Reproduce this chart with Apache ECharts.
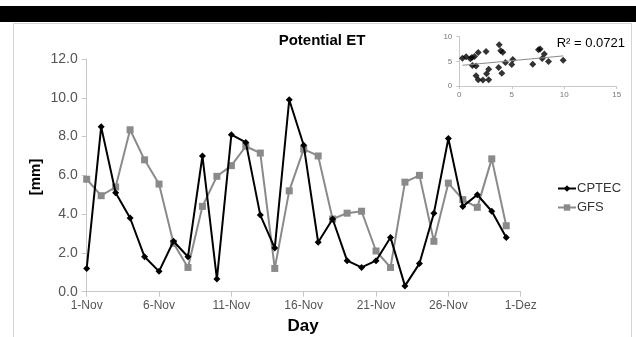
<!DOCTYPE html>
<html>
<head>
<meta charset="utf-8">
<script src="https://cdn.jsdelivr.net/npm/echarts@6/dist/echarts.min.js"></script>
<style>html,body{margin:0;padding:0;background:#fff;}#c{width:636px;height:337px;}</style>
</head>
<body>
<div id="c"></div>
<script>
const days = ['1-Nov','2-Nov','3-Nov','4-Nov','5-Nov','6-Nov','7-Nov','8-Nov','9-Nov','10-Nov',
  '11-Nov','12-Nov','13-Nov','14-Nov','15-Nov','16-Nov','17-Nov','18-Nov','19-Nov','20-Nov',
  '21-Nov','22-Nov','23-Nov','24-Nov','25-Nov','26-Nov','27-Nov','28-Nov','29-Nov','30-Nov','1-Dez'];
const cptec = [1.2, 8.5, 5.1, 3.8, 1.8, 1.05, 2.6, 1.8, 7.0, 0.65, 8.1, 7.7, 3.95, 2.25, 9.9, 7.55, 2.55, 3.75, 1.6, 1.25, 1.6, 2.8, 0.3, 1.45, 4.05, 7.9, 4.4, 5.0, 4.15, 2.8];
const gfs = [5.8, 4.95, 5.4, 8.35, 6.8, 5.55, 2.5, 1.25, 4.4, 5.95, 6.5, 7.5, 7.15, 1.2, 5.2, 7.35, 7.0, 3.75, 4.05, 4.15, 2.1, 1.25, 5.65, 6.0, 2.6, 5.6, 4.75, 4.35, 6.85, 3.4];
const seriesNames = ['CPTEC', 'GFS'];
const titleText = 'Potential ET';
const r2Text = 'R² = 0.0721';

const FONT = 'Liberation Sans, Arial, sans-serif';
// scatter pairs (CPTEC vs GFS) and linear trendline
const pairs = cptec.map((v, i) => [v, gfs[i]]);
const n = pairs.length;
const mx = cptec.reduce((a, b) => a + b, 0) / n;
const my = gfs.reduce((a, b) => a + b, 0) / n;
let sxy = 0, sxx = 0;
pairs.forEach(p => { sxy += (p[0] - mx) * (p[1] - my); sxx += (p[0] - mx) * (p[0] - mx); });
const slope = sxy / sxx, icpt = my - slope * mx;
const xmin = Math.min(...cptec), xmax = Math.max(...cptec);
const trend = [[xmin, icpt + slope * xmin], [xmax, icpt + slope * xmax]];

const chart = echarts.init(document.getElementById('c'), null, {renderer: 'canvas'});
chart.setOption({
  animation: false,
  backgroundColor: '#fff',
  textStyle: {fontFamily: FONT},
  graphic: [
    {type: 'rect', shape: {x: 0, y: 6, width: 636, height: 16}, style: {fill: '#000'}, z: -1},
    {type: 'rect', shape: {x: 13.5, y: 23.5, width: 618, height: 330}, style: {fill: null, stroke: '#d4d4d4', lineWidth: 1}, z: -1},
    {type: 'text', x: 322, y: 41, style: {text: titleText, font: 'bold 15px ' + FONT, fill: '#000', textAlign: 'center', textVerticalAlign: 'middle'}},
    {type: 'text', x: 303, y: 326, style: {text: 'Day', font: 'bold 17px ' + FONT, fill: '#000', textAlign: 'center', textVerticalAlign: 'middle'}},
    {type: 'text', x: 36, y: 177, rotation: Math.PI / 2, style: {text: '[mm]', font: 'bold 15px ' + FONT, fill: '#000', textAlign: 'center', textVerticalAlign: 'middle'}},
    {type: 'text', x: 625, y: 43, style: {text: r2Text, font: '13px ' + FONT, fill: '#000', textAlign: 'right', textVerticalAlign: 'middle'}}
  ],
  legend: {
    orient: 'vertical', left: 552, top: 177, itemWidth: 18, itemHeight: 8, itemGap: 6,
    textStyle: {fontFamily: FONT, fontSize: 13, color: '#333', padding: [0, 0, 0, -4]},
    data: seriesNames
  },
  grid: [
    {left: 86.7, right: 115.3, top: 59, bottom: 45.3},
    {left: 459.3, right: 19.3, top: 36.7, bottom: 251}
  ],
  xAxis: [
    {type: 'category', gridIndex: 0, data: days, boundaryGap: false,
     axisLine: {lineStyle: {color: '#c8c8c8', width: 1}},
     axisTick: {interval: 4, length: 5, lineStyle: {color: '#c8c8c8'}},
     axisLabel: {interval: 4, margin: 8, fontSize: 12, color: '#555', fontFamily: FONT},
     splitLine: {show: false}},
    {type: 'value', gridIndex: 1, min: 0, max: 15, interval: 5,
     axisLine: {lineStyle: {color: '#c8c8c8'}},
     axisTick: {length: 3, lineStyle: {color: '#c8c8c8'}},
     axisLabel: {margin: 5, fontSize: 8, color: '#777', fontFamily: FONT},
     splitLine: {show: false}}
  ],
  yAxis: [
    {type: 'value', gridIndex: 0, min: 0, max: 12, interval: 2,
     axisLine: {show: true, lineStyle: {color: '#c8c8c8', width: 1}},
     axisTick: {show: true, length: 5, lineStyle: {color: '#c8c8c8'}},
     axisLabel: {margin: 9, fontSize: 14, color: '#555', fontFamily: FONT, formatter: v => v.toFixed(1)},
     splitLine: {show: false}},
    {type: 'value', gridIndex: 1, min: 0, max: 10, interval: 5,
     axisLine: {show: true, lineStyle: {color: '#c8c8c8'}},
     axisTick: {show: true, length: 3, lineStyle: {color: '#c8c8c8'}},
     axisLabel: {margin: 7, fontSize: 8, color: '#777', fontFamily: FONT},
     splitLine: {show: false}}
  ],
  series: [
    {name: seriesNames[0], type: 'line', xAxisIndex: 0, yAxisIndex: 0, data: cptec,
     symbol: 'diamond', symbolSize: 7, showAllSymbol: true,
     lineStyle: {color: '#000', width: 2}, itemStyle: {color: '#000'}, z: 3},
    {name: seriesNames[1], type: 'line', xAxisIndex: 0, yAxisIndex: 0, data: gfs,
     symbol: 'rect', symbolSize: 7, showAllSymbol: true,
     lineStyle: {color: '#8a8a8a', width: 2}, itemStyle: {color: '#8a8a8a'}, z: 2},
    {type: 'scatter', xAxisIndex: 1, yAxisIndex: 1, data: pairs, symbol: 'diamond', symbolSize: 7,
     itemStyle: {color: '#000'}, silent: true},
    {type: 'line', xAxisIndex: 1, yAxisIndex: 1, data: trend, symbol: 'none',
     lineStyle: {color: '#8a8a8a', width: 1}, silent: true}
  ]
});
</script>
</body>
</html>
